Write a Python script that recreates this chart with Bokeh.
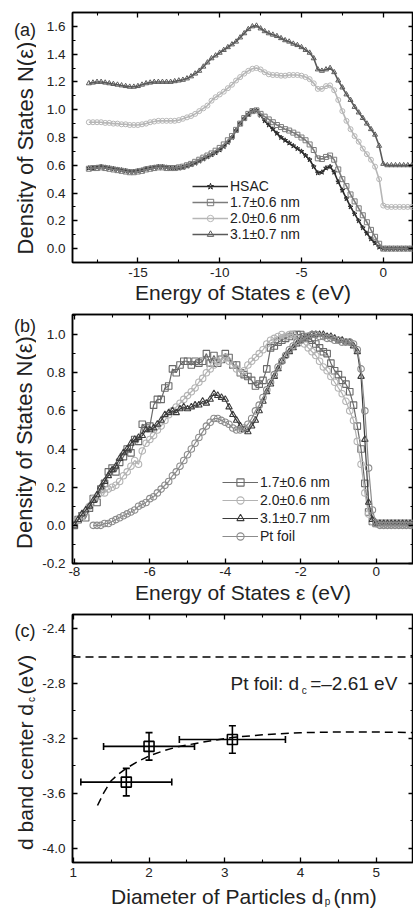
import math
from bokeh.plotting import figure
from bokeh.layouts import column, row
from bokeh.models import (Range1d, LinearAxis, FixedTicker, NumeralTickFormatter, Legend,
                          LegendItem, Label, Whisker, ColumnDataSource, TeeHead, Span)
from bokeh.embed import file_html
from bokeh.resources import INLINE

FONT = "Liberation Sans"

# ---------------- panel (a): DOS with vertical offsets ----------------
E_A = [-18 + 0.25 * i for i in range(81)]
DOS_A_HSAC = [0.58, 0.58, 0.585, 0.59, 0.585, 0.58, 0.575, 0.57, 0.565, 0.56,
              0.555, 0.555, 0.56, 0.565, 0.575, 0.58, 0.585, 0.59, 0.59, 0.585,
              0.58, 0.58, 0.58, 0.585, 0.595, 0.605, 0.615, 0.63, 0.645, 0.66,
              0.675, 0.69, 0.71, 0.735, 0.765, 0.80, 0.85, 0.90, 0.935, 0.965,
              0.99, 0.995, 0.96, 0.92, 0.89, 0.86, 0.83, 0.80, 0.78, 0.76,
              0.74, 0.72, 0.70, 0.67, 0.64, 0.59, 0.545, 0.55, 0.58, 0.59,
              0.55, 0.48, 0.42, 0.36, 0.30, 0.25, 0.20, 0.15, 0.11, 0.07,
              0.04, 0.01, 0.0, 0.0, 0.0, 0.0, 0.0, 0.0, 0.0, 0.0,
              0.0]
DOS_A_17 = [0.575, 0.58, 0.58, 0.585, 0.58, 0.575, 0.57, 0.565, 0.56, 0.555,
            0.55, 0.55, 0.555, 0.56, 0.57, 0.575, 0.58, 0.585, 0.585, 0.58,
            0.58, 0.58, 0.585, 0.59, 0.60, 0.61, 0.625, 0.64, 0.655, 0.67,
            0.685, 0.705, 0.725, 0.75, 0.78, 0.81, 0.855, 0.90, 0.94, 0.97,
            0.99, 0.995, 0.97, 0.95, 0.93, 0.91, 0.89, 0.875, 0.86, 0.85,
            0.835, 0.82, 0.80, 0.78, 0.75, 0.71, 0.65, 0.645, 0.66, 0.67,
            0.64, 0.57, 0.50, 0.45, 0.39, 0.34, 0.29, 0.24, 0.19, 0.135,
            0.085, 0.035, 0.0, 0.0, 0.0, 0.0, 0.0, 0.0, 0.0, 0.0,
            0.0]
DOS_A_20 = [0.91, 0.91, 0.91, 0.91, 0.905, 0.905, 0.90, 0.90, 0.895, 0.895,
            0.89, 0.89, 0.89, 0.895, 0.90, 0.91, 0.915, 0.92, 0.92, 0.92,
            0.92, 0.92, 0.925, 0.935, 0.945, 0.955, 0.97, 0.99, 1.01, 1.03,
            1.065, 1.09, 1.11, 1.13, 1.155, 1.18, 1.21, 1.235, 1.26, 1.28,
            1.295, 1.30, 1.29, 1.27, 1.255, 1.25, 1.25, 1.245, 1.245, 1.25,
            1.25, 1.25, 1.245, 1.235, 1.22, 1.19, 1.15, 1.15, 1.17, 1.175,
            1.14, 1.07, 0.99, 0.92, 0.86, 0.81, 0.77, 0.72, 0.68, 0.64,
            0.59, 0.50, 0.31, 0.30, 0.30, 0.30, 0.30, 0.30, 0.30, 0.30,
            0.30]
DOS_A_31 = [1.19, 1.195, 1.20, 1.20, 1.195, 1.19, 1.185, 1.18, 1.175, 1.17,
            1.165, 1.165, 1.17, 1.18, 1.19, 1.195, 1.20, 1.20, 1.20, 1.20,
            1.20, 1.205, 1.21, 1.215, 1.225, 1.24, 1.26, 1.28, 1.31, 1.34,
            1.37, 1.39, 1.41, 1.43, 1.45, 1.47, 1.49, 1.52, 1.55, 1.58,
            1.60, 1.605, 1.585, 1.565, 1.55, 1.54, 1.53, 1.515, 1.50, 1.49,
            1.475, 1.465, 1.45, 1.43, 1.41, 1.37, 1.29, 1.28, 1.29, 1.30,
            1.27, 1.21, 1.16, 1.11, 1.07, 1.02, 0.98, 0.94, 0.90, 0.86,
            0.82, 0.74, 0.61, 0.60, 0.60, 0.60, 0.60, 0.60, 0.60, 0.60,
            0.60]
LABELS_A = ["HSAC", "1.7\u00b10.6 nm", "2.0\u00b10.6 nm", "3.1\u00b10.7 nm"]

# ---------------- panel (b): normalised DOS ----------------
E_B = [round(-8 + 0.1 * i, 1) for i in range(91)]
E_B_PT = [round(-7.5 + 0.1 * i, 1) for i in range(86)]
DOS_B_17 = [0.00, 0.03, 0.05, 0.04, 0.09, 0.14, 0.12, 0.19, 0.22, 0.28,
            0.30, 0.28, 0.33, 0.36, 0.40, 0.38, 0.45, 0.44, 0.53, 0.51,
            0.52, 0.63, 0.66, 0.66, 0.72, 0.73, 0.82, 0.80, 0.84, 0.86,
            0.86, 0.84, 0.86, 0.85, 0.86, 0.90, 0.85, 0.89, 0.85, 0.87,
            0.90, 0.88, 0.84, 0.84, 0.80, 0.79, 0.78, 0.76, 0.73, 0.74,
            0.76, 0.82, 0.93, 0.94, 0.96, 0.97, 0.98, 0.99, 1.00, 1.00,
            1.00, 0.99, 0.98, 0.97, 0.95, 0.93, 0.91, 0.90, 0.85, 0.81,
            0.79, 0.76, 0.74, 0.70, 0.63, 0.52, 0.40, 0.22, 0.07, 0.02,
            0.01, 0.01, 0.01, 0.01, 0.01, 0.01, 0.01, 0.01, 0.01, 0.01, 0.01]
DOS_B_20 = [0.02, 0.03, 0.05, 0.07, 0.10, 0.14, 0.15, 0.17, 0.17, 0.19,
            0.20, 0.21, 0.23, 0.26, 0.28, 0.31, 0.34, 0.32, 0.39, 0.43,
            0.45, 0.47, 0.50, 0.52, 0.55, 0.58, 0.60, 0.62, 0.64, 0.66,
            0.68, 0.70, 0.72, 0.75, 0.77, 0.80, 0.82, 0.84, 0.86, 0.87,
            0.88, 0.86, 0.84, 0.82, 0.80, 0.81, 0.84, 0.86, 0.88, 0.90,
            0.92, 0.95, 0.97, 0.98, 0.99, 1.00, 0.99, 1.00, 1.00, 0.98,
            0.97, 0.95, 0.93, 0.91, 0.89, 0.86, 0.83, 0.81, 0.78, 0.75,
            0.72, 0.69, 0.65, 0.60, 0.55, 0.44, 0.32, 0.17, 0.06, 0.02,
            0.01, 0.01, 0.01, 0.01, 0.01, 0.01, 0.01, 0.01, 0.01, 0.01, 0.01]
DOS_B_31 = [0.00, 0.03, 0.06, 0.08, 0.10, 0.13, 0.16, 0.20, 0.23, 0.26,
            0.29, 0.31, 0.35, 0.38, 0.40, 0.43, 0.45, 0.46, 0.47, 0.50,
            0.50, 0.51, 0.53, 0.55, 0.58, 0.59, 0.60, 0.59, 0.61, 0.62,
            0.61, 0.62, 0.63, 0.63, 0.65, 0.64, 0.66, 0.69, 0.68, 0.67,
            0.66, 0.62, 0.58, 0.55, 0.52, 0.50, 0.49, 0.52, 0.55, 0.60,
            0.65, 0.70, 0.74, 0.78, 0.82, 0.86, 0.89, 0.91, 0.93, 0.95,
            0.97, 0.98, 0.99, 1.00, 1.00, 1.00, 1.00, 0.99, 0.99, 0.98,
            0.97, 0.97, 0.96, 0.96, 0.94, 0.91, 0.78, 0.45, 0.12, 0.03,
            0.01, 0.01, 0.01, 0.01, 0.01, 0.01, 0.01, 0.01, 0.01, 0.01, 0.01]
DOS_B_PT = [0.00, 0.00, 0.00, 0.01, 0.01, 0.02, 0.03, 0.04, 0.05, 0.06,
            0.07, 0.08, 0.10, 0.11, 0.12, 0.14, 0.15, 0.17, 0.19, 0.21,
            0.23, 0.26, 0.28, 0.31, 0.34, 0.37, 0.40, 0.43, 0.46, 0.49,
            0.52, 0.54, 0.56, 0.56, 0.55, 0.54, 0.53, 0.51, 0.50, 0.50,
            0.51, 0.53, 0.56, 0.60, 0.63, 0.67, 0.71, 0.75, 0.79, 0.83,
            0.86, 0.89, 0.92, 0.94, 0.96, 0.97, 0.98, 0.99, 1.00, 1.00,
            0.99, 0.99, 0.98, 0.98, 0.97, 0.97, 0.96, 0.96, 0.96, 0.95,
            0.92, 0.82, 0.60, 0.30, 0.08, 0.01, 0.00, 0.00, 0.00, 0.00,
            0.00, 0.00, 0.00, 0.00, 0.00, 0.00]
LABELS_B = ["1.7\u00b10.6 nm", "2.0\u00b10.6 nm", "3.1\u00b10.7 nm", "Pt foil"]

# ---------------- panel (c): d-band centre vs particle size ----------------
D_P = [1.7, 2.0, 3.1]
D_P_ERR = [0.6, 0.6, 0.7]
D_C = [-3.52, -3.26, -3.21]
D_C_ERR = [0.10, 0.10, 0.10]
PT_FOIL_DC = -2.61
FIT_D = [1.32, 1.40, 1.50, 1.60, 1.70, 1.85, 2.0, 2.2, 2.4, 2.6, 2.8, 3.1, 3.5, 4.0, 4.5, 5.0, 5.5]
FIT_DC = [-3.69, -3.60, -3.51, -3.46, -3.42, -3.37, -3.33, -3.29, -3.26, -3.24,
          -3.22, -3.195, -3.175, -3.16, -3.155, -3.155, -3.16]

# ---------------- layout constants (px) ----------------
W_TOTAL = 413
W_SIDE = 36          # strip that holds panel letters and y titles
W_MAIN = W_TOTAL - W_SIDE
BORDER_L = 36        # room for the tick labels inside each main figure


# ---------------- helpers ----------------
def style_axis(ax, show_labels=True, fmt=None):
    ax.axis_line_width = 1.5
    ax.axis_line_color = "black"
    ax.major_tick_in = 5
    ax.major_tick_out = 0
    ax.minor_tick_in = 3
    ax.minor_tick_out = 0
    ax.major_tick_line_width = 1.3
    ax.minor_tick_line_width = 1.1
    ax.major_tick_line_color = "black"
    ax.minor_tick_line_color = "black"
    ax.major_label_text_font = FONT
    ax.axis_label_text_font = FONT
    ax.axis_label_text_font_size = "21px"
    ax.axis_label_text_font_style = "normal"
    ax.axis_label_text_color = "#222222"
    if show_labels:
        ax.major_label_text_font_size = "13.5px"
        ax.major_label_text_color = "#222222"
    else:
        ax.major_label_text_font_size = "1px"
        ax.major_label_text_color = None
        ax.major_label_standoff = 0
    if fmt:
        ax.formatter = NumeralTickFormatter(format=fmt)


def make_fig(height, xr, yr, top, bottom, xt, xm, yt, ym, xfmt, yfmt,
             xlabel, xstand, xlab_stand):
    p = figure(width=W_MAIN, height=height, x_range=Range1d(*xr), y_range=Range1d(*yr),
               output_backend="svg", toolbar_location=None,
               min_border_left=BORDER_L, min_border_right=0, min_border_top=top,
               min_border_bottom=bottom, background_fill_color="white",
               border_fill_color="white")
    p.grid.visible = False
    p.outline_line_color = "black"
    p.outline_line_width = 1.5
    p.xaxis.ticker = FixedTicker(ticks=xt, minor_ticks=xm)
    p.yaxis.ticker = FixedTicker(ticks=yt, minor_ticks=ym)
    for ax in p.xaxis:
        style_axis(ax, True, xfmt)
        ax.major_label_standoff = xstand
        ax.axis_label = xlabel
        ax.axis_label_standoff = xlab_stand
    for ax in p.yaxis:
        style_axis(ax, True, yfmt)
        ax.major_label_standoff = 7
        ax.axis_label = None
    top_ax = LinearAxis(ticker=FixedTicker(ticks=xt, minor_ticks=xm))
    style_axis(top_ax, False)
    p.add_layout(top_ax, "above")
    right_ax = LinearAxis(ticker=FixedTicker(ticks=yt, minor_ticks=ym))
    style_axis(right_ax, False)
    p.add_layout(right_ax, "right")
    return p


def make_strip(width, height):
    s = figure(width=width, height=height, x_range=Range1d(0, width), y_range=Range1d(0, height),
               x_axis_location=None, y_axis_location=None, output_backend="svg",
               toolbar_location=None, min_border=0, outline_line_color=None,
               background_fill_color="white", border_fill_color="white")
    s.grid.visible = False
    return s


def strip_text(s, x, y, text, size, align="left", angle=0.0):
    s.add_layout(Label(x=x, y=y, text=text, text_font=FONT, text_font_size=size,
                       text_align=align, text_baseline="middle", angle=angle,
                       text_color="#222222"))


def to_data(X, Y, geo):
    l, r, t, b, x0, x1, y0, y1 = geo
    return (x0 + (X - l) / (r - l) * (x1 - x0), y1 - (Y - t) / (b - t) * (y1 - y0))


def add_text(p, geo, X, Y, text, size, align="left"):
    x, y = to_data(X, Y, geo)
    p.add_layout(Label(x=x, y=y, text=text, text_font=FONT, text_font_size=size,
                       text_align=align, text_baseline="middle", text_color="#222222"))


def make_legend(items, vx, vy, h):
    return Legend(items=items, location=(vx, vy), glyph_width=36, glyph_height=h,
                  label_height=h, spacing=0, padding=0, margin=0, label_standoff=2,
                  border_line_color=None, background_fill_alpha=0,
                  label_text_font=FONT, label_text_font_size="14px",
                  label_text_color="#222222")

# ---------------- panel (a) ----------------
H_A = 308
pa = make_fig(H_A, (-19.0, 1.85), (-0.1, 1.7), 12, 46,
              [-15, -10, -5, 0], [-17.5, -12.5, -7.5, -2.5],
              [0.0, 0.2, 0.4, 0.6, 0.8, 1.0, 1.2, 1.4, 1.6],
              [-0.1, 0.1, 0.3, 0.5, 0.7, 0.9, 1.1, 1.3, 1.5, 1.7],
              "0", "0.0", "Energy of States \u03b5 (eV)", 5, 1)

series_a = [(DOS_A_HSAC, "#2a2a2a", "star"), (DOS_A_17, "#7c7c7c", "square"),
            (DOS_A_20, "#b6b6b6", "circle"), (DOS_A_31, "#5a5a5a", "triangle")]
items_a = []
for (vals, col, mk), lab in zip(series_a, LABELS_A):
    lr = pa.line(E_A, vals, line_color=col, line_width=1.6)
    sr = pa.scatter(E_A, vals, marker=mk, size=5, fill_color=None, line_color=col, line_width=1)
    items_a.append(LegendItem(label=lab, renderers=[lr, sr]))
pa.add_layout(make_legend(items_a, 120, 20, 16))

sa = make_strip(W_SIDE, H_A)
strip_text(sa, 24.5, H_A - 22, "(a)", "18px", align="center")
# rotated y title, anchored at its upper end
strip_text(sa, 24.5, H_A - 36, "Density of States N(\u03b5)", "22px", align="right",
           angle=math.pi / 2)

# ---------------- panel (b) ----------------
H_B = 299
pb = make_fig(H_B, (-8.05, 0.99), (-0.2, 1.105), 6, 44,
              [-8, -6, -4, -2, 0], [-7, -5, -3, -1],
              [-0.2, 0.0, 0.2, 0.4, 0.6, 0.8, 1.0],
              [-0.1, 0.1, 0.3, 0.5, 0.7, 0.9, 1.1],
              "0", "0.0", "Energy of States \u03b5 (eV)", 3, 2)

series_b = [(E_B, DOS_B_17, "#6a6a6a", "square"), (E_B, DOS_B_20, "#b3b3b3", "circle"),
            (E_B, DOS_B_31, "#3c3c3c", "triangle"), (E_B_PT, DOS_B_PT, "#8c8c8c", "circle")]
items_b = []
for (xs, vals, col, mk), lab in zip(series_b, LABELS_B):
    lr = pb.line(xs, vals, line_color=col, line_width=1.2)
    sr = pb.scatter(xs, vals, marker=mk, size=6.5, fill_color=None, line_color=col, line_width=1.1)
    items_b.append(LegendItem(label=lab, renderers=[lr, sr]))
pb.add_layout(make_legend(items_b, 150, 18, 18))

sb = make_strip(W_SIDE, H_B)
strip_text(sb, 24.5, H_B - 14, "(b)", "18px", align="center")
strip_text(sb, 23.5, H_B - (334 - 308), "Density of States N(\u03b5)", "22px", align="right",
           angle=math.pi / 2)

# ---------------- panel (c) ----------------
H_C = 277
XR_C = (0.99, 5.49)
YR_C = (-4.105, -2.30)
# page-pixel geometry of panel (c)'s frame, used to place the in-frame annotation
GEO_C = (72.0, 412.0, 614.0, 862.0, XR_C[0], XR_C[1], YR_C[0], YR_C[1])
pc = make_fig(H_C, XR_C, YR_C, 7, 22,
              [1, 2, 3, 4, 5], [1.5, 2.5, 3.5, 4.5],
              [-4.0, -3.6, -3.2, -2.8, -2.4],
              [-3.8, -3.4, -3.0, -2.6],
              "0", "0.0", None, 5, 0)

pc.add_layout(Span(location=PT_FOIL_DC, dimension="width", line_color="black",
                   line_width=1.5, line_dash="8 5"))
pc.line(FIT_D, FIT_DC, line_color="black", line_width=1.5, line_dash="8 5")
src_c = ColumnDataSource(dict(
    x=D_P, y=D_C,
    xl=[v - e for v, e in zip(D_P, D_P_ERR)], xu=[v + e for v, e in zip(D_P, D_P_ERR)],
    yl=[v - e for v, e in zip(D_C, D_C_ERR)], yu=[v + e for v, e in zip(D_C, D_C_ERR)]))
for base, lo, up, dim in (("y", "xl", "xu", "width"), ("x", "yl", "yu", "height")):
    pc.add_layout(Whisker(source=src_c, base=base, lower=lo, upper=up, dimension=dim,
                          line_color="black", line_width=1.6,
                          lower_head=TeeHead(size=7, line_width=1.6, line_color="black"),
                          upper_head=TeeHead(size=7, line_width=1.6, line_color="black")))
pc.scatter("x", "y", source=src_c, marker="square", size=10, fill_color=None,
           line_color="black", line_width=1.6)

# annotation "Pt foil: d_c = -2.61 eV"
add_text(pc, GEO_C, 298, 682.7, "Pt foil: d", "19px", align="right")
add_text(pc, GEO_C, 303, 690, "c", "10px", align="center")
add_text(pc, GEO_C, 309, 682.7, "=\u20132.61 eV", "19px", align="left")

sc = make_strip(W_SIDE, H_C)
Y0_C = 308 + 299    # page y of the top of row (c)
strip_text(sc, 24.5, H_C - (625 - Y0_C), "(c)", "18px", align="center")
# rotated y title with subscript: "d band center d_c (eV)"
strip_text(sc, 24.5, H_C - (707 - Y0_C), "d band center d", "21px", align="right", angle=math.pi / 2)
strip_text(sc, 31, H_C - (702 - Y0_C), "c", "10px", align="center", angle=math.pi / 2)
strip_text(sc, 24.5, H_C - (652 - Y0_C), "(eV)", "21px", align="right", angle=math.pi / 2)

# x title of panel (c) with subscript: "Diameter of Particles d_p (nm)"
H_X = 908 - H_A - H_B - H_C
sx = make_strip(W_TOTAL, H_X)
strip_text(sx, 323, 12, "Diameter of Particles d", "21px", align="right")
strip_text(sx, 327, 7, "p", "10px", align="center")
strip_text(sx, 333, 12, "(nm)", "21px", align="left")

layout = column(row(sa, pa, spacing=0), row(sb, pb, spacing=0), row(sc, pc, spacing=0), sx,
                spacing=0)
open("out.html", "w").write(file_html(layout, INLINE))
